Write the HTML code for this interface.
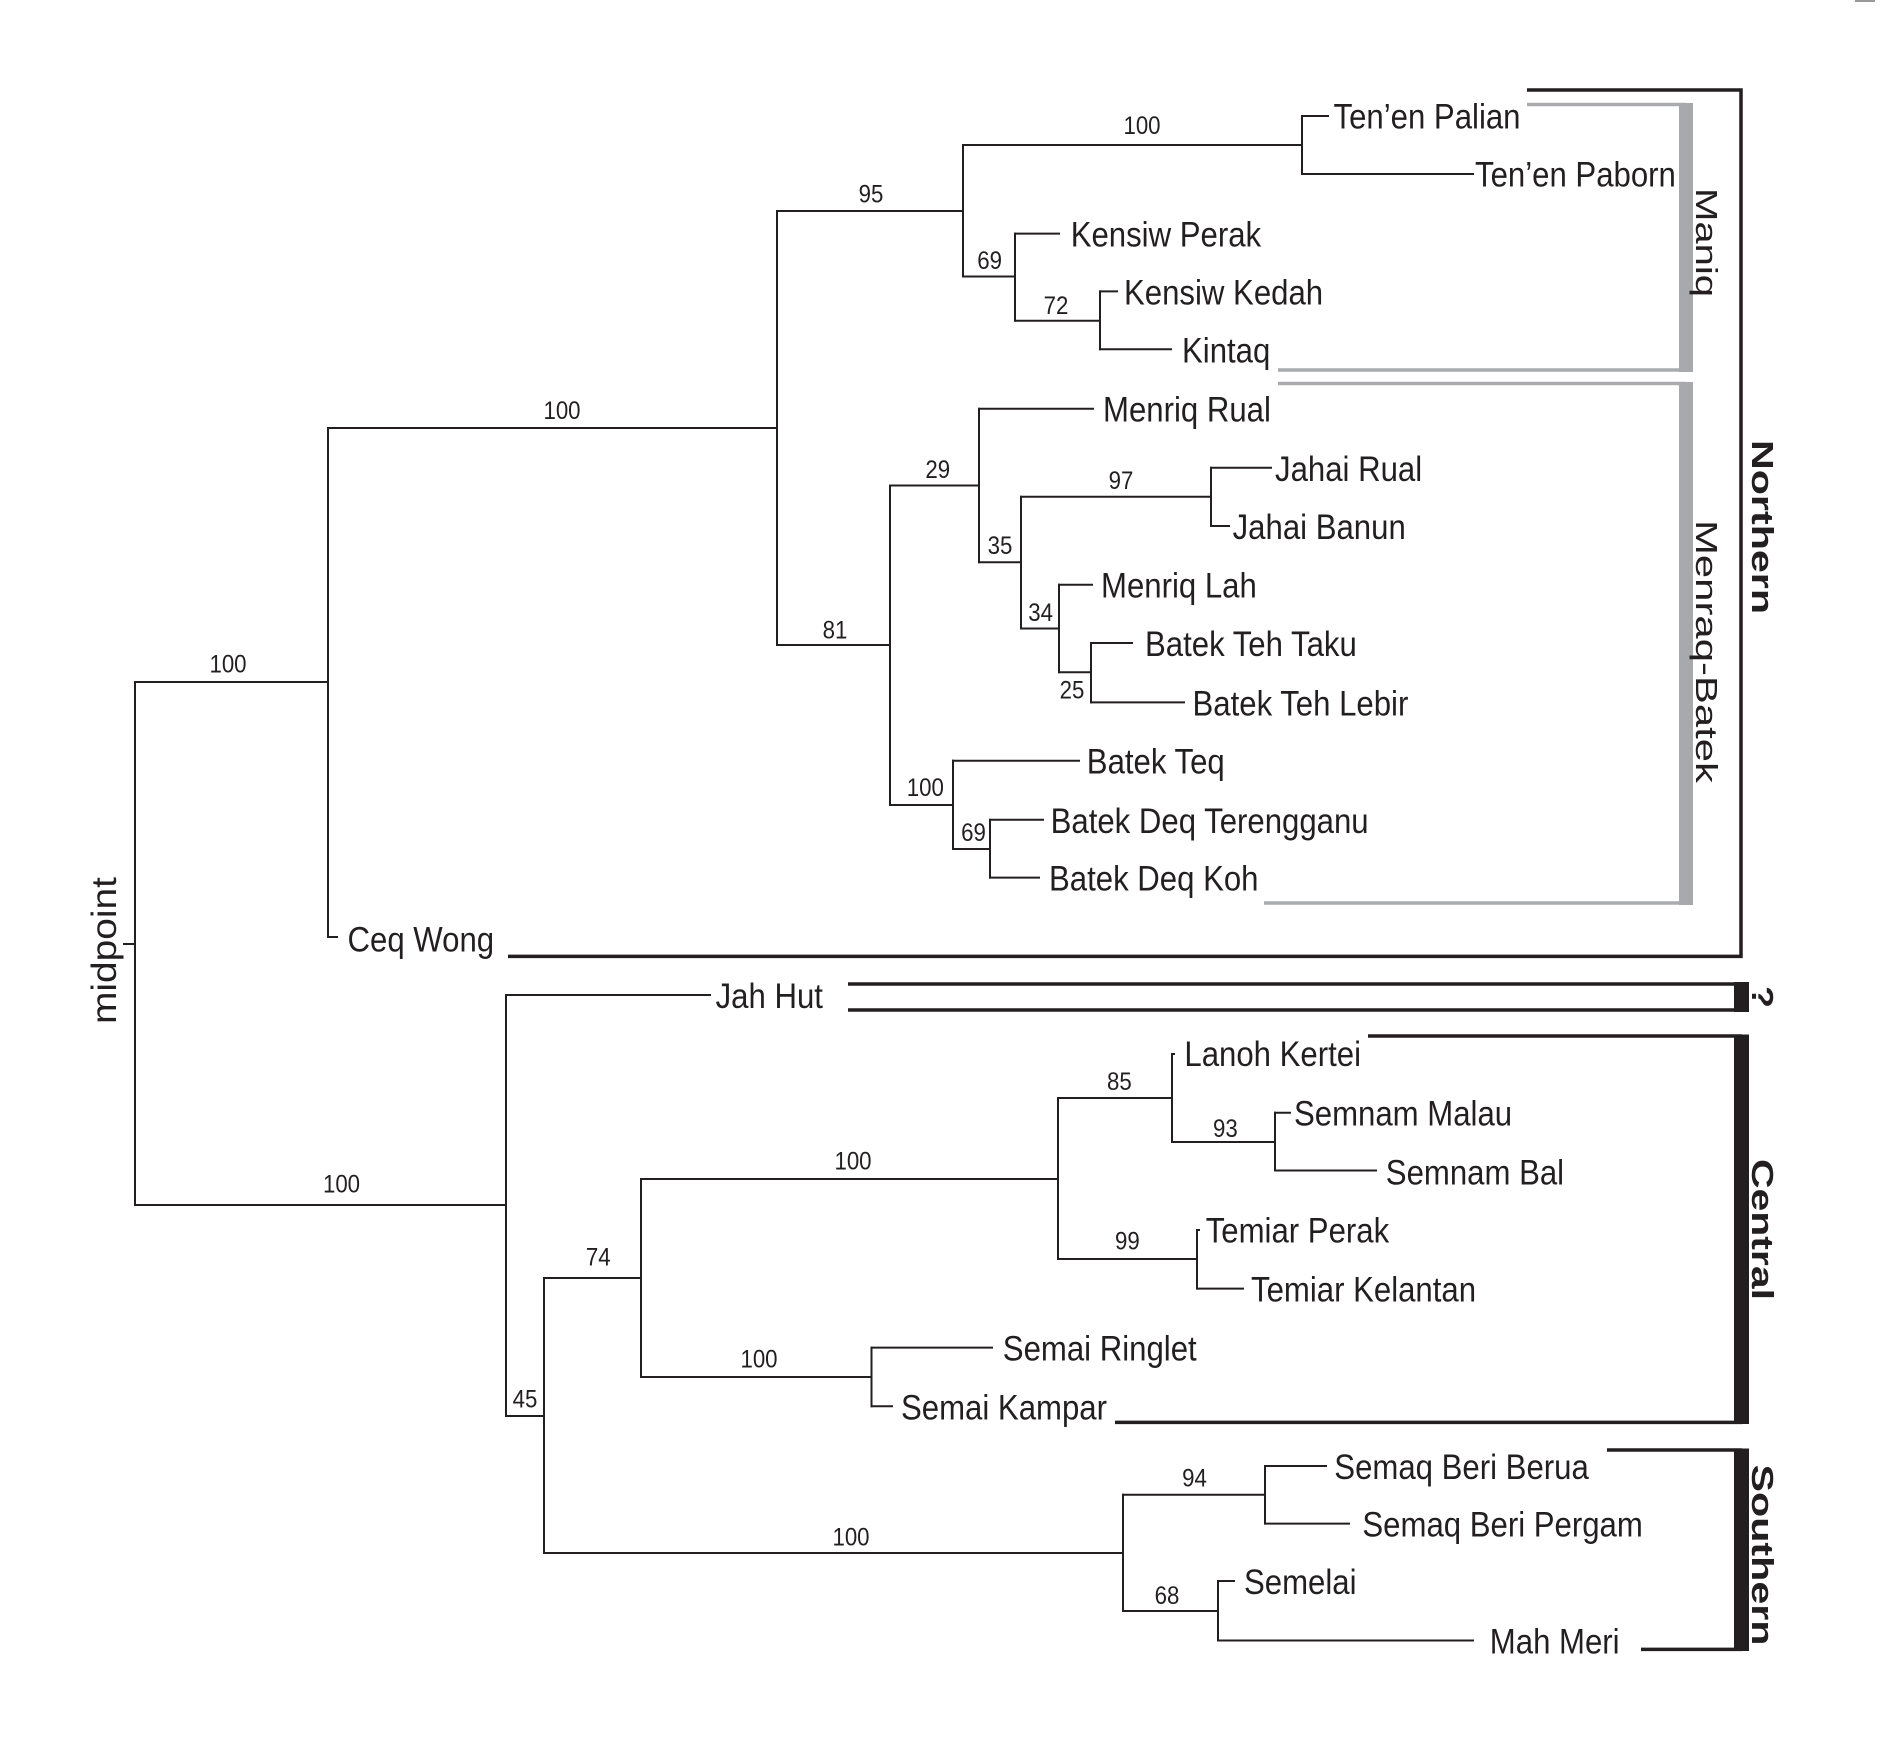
<!DOCTYPE html>
<html><head><meta charset="utf-8"><style>
html,body{margin:0;padding:0;background:#fff;}
svg{display:block;}
.t{font-family:"Liberation Sans",Arial,sans-serif;font-size:35px;fill:#231f20;}
.s{font-family:"Liberation Sans",Arial,sans-serif;font-size:25px;fill:#231f20;text-anchor:middle;}
.g{font-family:"Liberation Sans",Arial,sans-serif;font-size:41px;fill:#231f20;}
.gb{font-family:"Liberation Sans",Arial,sans-serif;font-size:41px;font-weight:bold;fill:#231f20;}
</style></head><body>
<svg width="1890" height="1743" viewBox="0 0 1890 1743" xmlns="http://www.w3.org/2000/svg">
<rect width="1890" height="1743" fill="#fff"/>
<line x1="1855" y1="1" x2="1875" y2="1" stroke="#999" stroke-width="2"/>
<g stroke="#231f20" stroke-width="2" fill="none" stroke-linecap="square">
<!-- root -->
<line x1="135" y1="682" x2="135" y2="1205"/>
<line x1="124" y1="944" x2="135" y2="944"/>
<line x1="135" y1="682" x2="328" y2="682"/>
<!-- A -->
<line x1="328" y1="428" x2="328" y2="937"/>
<line x1="328" y1="428" x2="777" y2="428"/>
<line x1="328" y1="937" x2="337" y2="937"/>
<!-- B -->
<line x1="777" y1="211" x2="777" y2="645"/>
<line x1="777" y1="211" x2="963" y2="211"/>
<!-- C -->
<line x1="963" y1="145" x2="963" y2="276.5"/>
<line x1="963" y1="145" x2="1302" y2="145"/>
<line x1="1302" y1="116" x2="1302" y2="174"/>
<line x1="1302" y1="116" x2="1328" y2="116"/>
<line x1="1302" y1="174" x2="1473" y2="174"/>
<line x1="963" y1="276.5" x2="1015" y2="276.5"/>
<!-- D -->
<line x1="1015" y1="233.6" x2="1015" y2="320.7"/>
<line x1="1015" y1="233.6" x2="1059" y2="233.6"/>
<line x1="1015" y1="320.7" x2="1100" y2="320.7"/>
<line x1="1100" y1="291.4" x2="1100" y2="349.3"/>
<line x1="1100" y1="291.4" x2="1117" y2="291.4"/>
<line x1="1100" y1="349.3" x2="1171" y2="349.3"/>
<!-- F -->
<line x1="777" y1="645" x2="890" y2="645"/>
<line x1="890" y1="485.5" x2="890" y2="805"/>
<line x1="890" y1="485.5" x2="979" y2="485.5"/>
<line x1="979" y1="408.7" x2="979" y2="562.2"/>
<line x1="979" y1="408.7" x2="1093" y2="408.7"/>
<line x1="979" y1="562.2" x2="1021" y2="562.2"/>
<line x1="1021" y1="496.7" x2="1021" y2="628.5"/>
<line x1="1021" y1="496.7" x2="1211" y2="496.7"/>
<line x1="1211" y1="467.8" x2="1211" y2="526"/>
<line x1="1211" y1="467.8" x2="1271" y2="467.8"/>
<line x1="1211" y1="526" x2="1229" y2="526"/>
<line x1="1021" y1="628.5" x2="1059" y2="628.5"/>
<line x1="1059" y1="584.7" x2="1059" y2="672.3"/>
<line x1="1059" y1="584.7" x2="1092" y2="584.7"/>
<line x1="1059" y1="672.3" x2="1091" y2="672.3"/>
<line x1="1091" y1="643" x2="1091" y2="702.4"/>
<line x1="1091" y1="643" x2="1132" y2="643"/>
<line x1="1091" y1="702.4" x2="1184" y2="702.4"/>
<line x1="890" y1="805" x2="953" y2="805"/>
<line x1="953" y1="760.7" x2="953" y2="849"/>
<line x1="953" y1="760.7" x2="1079" y2="760.7"/>
<line x1="953" y1="849" x2="990" y2="849"/>
<line x1="990" y1="819.8" x2="990" y2="877.6"/>
<line x1="990" y1="819.8" x2="1043" y2="819.8"/>
<line x1="990" y1="877.6" x2="1039" y2="877.6"/>
<!-- M -->
<line x1="135" y1="1205" x2="506" y2="1205"/>
<line x1="506" y1="995" x2="506" y2="1416"/>
<line x1="506" y1="995" x2="710" y2="995"/>
<line x1="506" y1="1416" x2="544" y2="1416"/>
<line x1="544" y1="1278" x2="544" y2="1553"/>
<line x1="544" y1="1278" x2="641" y2="1278"/>
<line x1="641" y1="1179" x2="641" y2="1377"/>
<line x1="641" y1="1179" x2="1058" y2="1179"/>
<line x1="1058" y1="1098" x2="1058" y2="1259"/>
<line x1="1058" y1="1098" x2="1172" y2="1098"/>
<line x1="1172" y1="1054" x2="1172" y2="1142"/>
<line x1="1172" y1="1054" x2="1174" y2="1054"/>
<line x1="1172" y1="1142" x2="1275" y2="1142"/>
<line x1="1275" y1="1112.7" x2="1275" y2="1170.5"/>
<line x1="1275" y1="1112.7" x2="1290" y2="1112.7"/>
<line x1="1275" y1="1170.5" x2="1376" y2="1170.5"/>
<line x1="1058" y1="1259" x2="1197" y2="1259"/>
<line x1="1197" y1="1230" x2="1197" y2="1288.6"/>
<line x1="1197" y1="1230" x2="1199" y2="1230"/>
<line x1="1197" y1="1288.6" x2="1243" y2="1288.6"/>
<line x1="641" y1="1377" x2="871.5" y2="1377"/>
<line x1="871.5" y1="1347.6" x2="871.5" y2="1406.3"/>
<line x1="871.5" y1="1347.6" x2="992" y2="1347.6"/>
<line x1="871.5" y1="1406.3" x2="892" y2="1406.3"/>
<line x1="544" y1="1553" x2="1123" y2="1553"/>
<line x1="1123" y1="1494.7" x2="1123" y2="1611"/>
<line x1="1123" y1="1494.7" x2="1265" y2="1494.7"/>
<line x1="1265" y1="1466" x2="1265" y2="1523.6"/>
<line x1="1265" y1="1466" x2="1326" y2="1466"/>
<line x1="1265" y1="1523.6" x2="1349" y2="1523.6"/>
<line x1="1123" y1="1611" x2="1218" y2="1611"/>
<line x1="1218" y1="1581" x2="1218" y2="1640.5"/>
<line x1="1218" y1="1581" x2="1234" y2="1581"/>
<line x1="1218" y1="1640.5" x2="1473" y2="1640.5"/>
</g>

<!-- grey brackets -->
<g stroke="#a9abae" stroke-width="3.5" fill="none">
<polyline points="1527,104.5 1686,104.5"/>
<polyline points="1278,370 1686,370"/>
<polyline points="1278,383.5 1686,383.5"/>
<polyline points="1264,903 1686,903"/>
</g>
<rect x="1679" y="103" width="14" height="269" fill="#a7a9ac"/>
<rect x="1679" y="382" width="14" height="523" fill="#a7a9ac"/>

<!-- black brackets -->
<g stroke="#231f20" stroke-width="3.5" fill="none">
<polyline points="1527,90 1741,90 1741,956.4 508,956.4"/>
<polyline points="848,984 1742,984"/>
<polyline points="848,1010 1742,1010"/>
<polyline points="1368,1036 1742,1036"/>
<polyline points="1115,1422.4 1742,1422.4"/>
<polyline points="1607,1450 1742,1450"/>
<polyline points="1641,1649.4 1742,1649.4"/>
</g>
<g fill="#231f20">
<rect x="1734" y="982" width="15" height="30"/>
<rect x="1734" y="1034.5" width="15" height="389.5"/>
<rect x="1734" y="1448.5" width="15" height="202.5"/>
</g>

<!-- taxon labels -->
<g class="t">
<text class="t" transform="translate(1333.5,128.5) scale(0.89,1)">Ten’en Palian</text>
<text class="t" transform="translate(1475,186.5) scale(0.89,1)">Ten’en Paborn</text>
<text class="t" transform="translate(1070.7,246.6) scale(0.89,1)">Kensiw Perak</text>
<text class="t" transform="translate(1124,304.4) scale(0.89,1)">Kensiw Kedah</text>
<text class="t" transform="translate(1182,362.3) scale(0.89,1)">Kintaq</text>
<text class="t" transform="translate(1103,421.7) scale(0.89,1)">Menriq Rual</text>
<text class="t" transform="translate(1275,480.8) scale(0.89,1)">Jahai Rual</text>
<text class="t" transform="translate(1232.6,539) scale(0.89,1)">Jahai Banun</text>
<text class="t" transform="translate(1101,597.7) scale(0.89,1)">Menriq Lah</text>
<text class="t" transform="translate(1145,656) scale(0.89,1)">Batek Teh Taku</text>
<text class="t" transform="translate(1192.5,715.4) scale(0.89,1)">Batek Teh Lebir</text>
<text class="t" transform="translate(1086.8,773.7) scale(0.89,1)">Batek Teq</text>
<text class="t" transform="translate(1050.6,832.8) scale(0.89,1)">Batek Deq Terengganu</text>
<text class="t" transform="translate(1049,890.6) scale(0.89,1)">Batek Deq Koh</text>
<text class="t" transform="translate(347.5,951.5) scale(0.89,1)">Ceq Wong</text>
<text class="t" transform="translate(715.6,1008) scale(0.89,1)">Jah Hut</text>
<text class="t" transform="translate(1184.4,1066) scale(0.89,1)">Lanoh Kertei</text>
<text class="t" transform="translate(1294,1125.7) scale(0.89,1)">Semnam Malau</text>
<text class="t" transform="translate(1385.8,1184.5) scale(0.89,1)">Semnam Bal</text>
<text class="t" transform="translate(1205.7,1242.5) scale(0.89,1)">Temiar Perak</text>
<text class="t" transform="translate(1251,1301.6) scale(0.89,1)">Temiar Kelantan</text>
<text class="t" transform="translate(1002.8,1360.6) scale(0.89,1)">Semai Ringlet</text>
<text class="t" transform="translate(901,1419.3) scale(0.89,1)">Semai Kampar</text>
<text class="t" transform="translate(1334.3,1479) scale(0.89,1)">Semaq Beri Berua</text>
<text class="t" transform="translate(1362.4,1536.6) scale(0.89,1)">Semaq Beri Pergam</text>
<text class="t" transform="translate(1244,1594) scale(0.89,1)">Semelai</text>
<text class="t" transform="translate(1489.8,1653.5) scale(0.89,1)">Mah Meri</text>
</g>

<!-- support values -->
<text class="s" transform="translate(1142,134) scale(0.89,1)">100</text>
<text class="s" transform="translate(871,202.6) scale(0.89,1)">95</text>
<text class="s" transform="translate(989.6,269) scale(0.89,1)">69</text>
<text class="s" transform="translate(1056,314) scale(0.89,1)">72</text>
<text class="s" transform="translate(562,419) scale(0.89,1)">100</text>
<text class="s" transform="translate(228,672.3) scale(0.89,1)">100</text>
<text class="s" transform="translate(835,638.5) scale(0.89,1)">81</text>
<text class="s" transform="translate(937.7,477.8) scale(0.89,1)">29</text>
<text class="s" transform="translate(1000,554) scale(0.89,1)">35</text>
<text class="s" transform="translate(1121,489) scale(0.89,1)">97</text>
<text class="s" transform="translate(1040.6,621) scale(0.89,1)">34</text>
<text class="s" transform="translate(1072,698.4) scale(0.89,1)">25</text>
<text class="s" transform="translate(925.3,796) scale(0.89,1)">100</text>
<text class="s" transform="translate(973.5,841) scale(0.89,1)">69</text>
<text class="s" transform="translate(341.5,1192.6) scale(0.89,1)">100</text>
<text class="s" transform="translate(525,1407.3) scale(0.89,1)">45</text>
<text class="s" transform="translate(598.3,1265.7) scale(0.89,1)">74</text>
<text class="s" transform="translate(853,1169.5) scale(0.89,1)">100</text>
<text class="s" transform="translate(1119.4,1090) scale(0.89,1)">85</text>
<text class="s" transform="translate(1225.4,1137) scale(0.89,1)">93</text>
<text class="s" transform="translate(1127.4,1249.6) scale(0.89,1)">99</text>
<text class="s" transform="translate(759,1367.3) scale(0.89,1)">100</text>
<text class="s" transform="translate(851,1545.7) scale(0.89,1)">100</text>
<text class="s" transform="translate(1194.5,1486.6) scale(0.89,1)">94</text>
<text class="s" transform="translate(1167,1604) scale(0.89,1)">68</text>

<!-- rotated labels -->
<text class="t" style="font-size:39px" transform="translate(116,1024) scale(0.9,1) rotate(-90)" textLength="147" lengthAdjust="spacingAndGlyphs">midpoint</text>
<text class="g" transform="translate(1696,188) scale(0.74,1) rotate(90)" textLength="109" lengthAdjust="spacingAndGlyphs">Maniq</text>
<text class="g" transform="translate(1696,520) scale(0.74,1) rotate(90)" textLength="263" lengthAdjust="spacingAndGlyphs">Menraq-Batek</text>
<text class="gb" transform="translate(1752,440) scale(0.74,1) rotate(90)" textLength="174" lengthAdjust="spacingAndGlyphs">Northern</text>
<text class="gb" transform="translate(1752,986) scale(0.74,1) rotate(90)" textLength="22" lengthAdjust="spacingAndGlyphs">?</text>
<text class="gb" transform="translate(1752,1159) scale(0.74,1) rotate(90)" textLength="141" lengthAdjust="spacingAndGlyphs">Central</text>
<text class="gb" transform="translate(1752,1464.5) scale(0.74,1) rotate(90)" textLength="181" lengthAdjust="spacingAndGlyphs">Southern</text>
</svg>
</body></html>
